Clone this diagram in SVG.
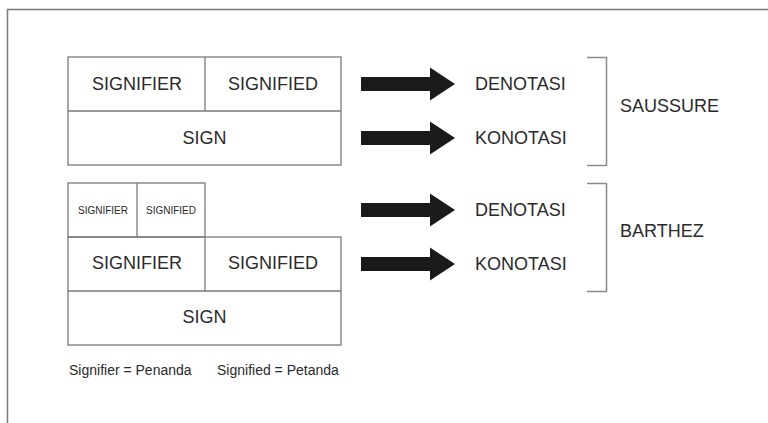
<svg xmlns="http://www.w3.org/2000/svg" width="768" height="423" viewBox="0 0 768 423">
<style>
.bx{fill:none;stroke:#7a7a7a;stroke-width:1.3}
.t{font-family:"Liberation Sans",Arial,sans-serif;fill:#2a2a2a;text-anchor:middle}
.l{font-family:"Liberation Sans",Arial,sans-serif;fill:#2a2a2a}
.br{fill:none;stroke:#8a8a8a;stroke-width:1.5}
.ar{fill:#1a1a1a}
</style>
<defs>
<path id="arrow" d="M0,-7 H69 V-16.5 L94,0 L69,16.5 V7 H0 Z"/>
</defs>
<rect width="768" height="423" fill="#fff"/>
<path d="M7.5,423 V9.5 H768" fill="none" stroke="#7a7a7a" stroke-width="1.5"/>
<g id="saussure-box">
<rect class="bx" x="68" y="57" width="273" height="108"/>
<line class="bx" x1="68" y1="111" x2="341" y2="111"/>
<line class="bx" x1="205" y1="57" x2="205" y2="111"/>
<text class="t" x="137" y="90" font-size="18">SIGNIFIER</text>
<text class="t" x="273" y="90" font-size="18">SIGNIFIED</text>
<text class="t" x="204.5" y="144" font-size="18">SIGN</text>
</g>
<g id="barthez-box">
<rect class="bx" x="68" y="183" width="137" height="54"/>
<line class="bx" x1="137" y1="183" x2="137" y2="237"/>
<rect class="bx" x="68" y="237" width="273" height="108"/>
<line class="bx" x1="68" y1="291" x2="341" y2="291"/>
<line class="bx" x1="205" y1="237" x2="205" y2="291"/>
<text class="t" x="103" y="213.5" font-size="10">SIGNIFIER</text>
<text class="t" x="171" y="213.5" font-size="10">SIGNIFIED</text>
<text class="t" x="137" y="269" font-size="18">SIGNIFIER</text>
<text class="t" x="273" y="269" font-size="18">SIGNIFIED</text>
<text class="t" x="204.5" y="323" font-size="18">SIGN</text>
</g>
<g id="connectors">
<use href="#arrow" class="ar" x="361" y="84"/>
<use href="#arrow" class="ar" x="361" y="138"/>
<use href="#arrow" class="ar" x="361" y="210"/>
<use href="#arrow" class="ar" x="361" y="264"/>
</g>
<g id="labels">
<text class="l" x="475" y="90" font-size="18">DENOTASI</text>
<text class="l" x="475" y="144" font-size="18">KONOTASI</text>
<text class="l" x="475" y="216" font-size="18">DENOTASI</text>
<text class="l" x="475" y="270" font-size="18">KONOTASI</text>
</g>
<g id="saussure">
<path class="br" d="M587,57.5 H606.5 V165.5 H587"/>
<text class="l" x="620" y="112" font-size="18">SAUSSURE</text>
</g>
<g id="barthez">
<path class="br" d="M587,183.5 H606.5 V291.5 H587"/>
<text class="l" x="620" y="237" font-size="18">BARTHEZ</text>
</g>
<g id="legend">
<text class="l" x="69" y="375" font-size="14">Signifier = Penanda</text>
<text class="l" x="217" y="375" font-size="14">Signified = Petanda</text>
</g>
</svg>
